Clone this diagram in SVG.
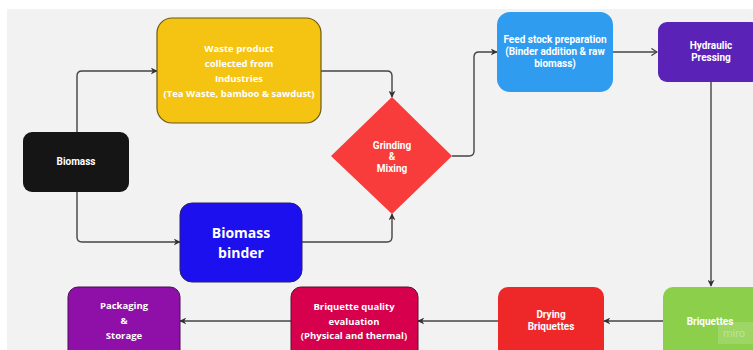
<svg xmlns="http://www.w3.org/2000/svg" width="753" height="350" viewBox="0 0 753 350">
<defs>
<marker id="ah" viewBox="0 0 10 10" refX="9" refY="5" markerWidth="7" markerHeight="7" orient="auto" markerUnits="userSpaceOnUse">
<path d="M0,0 L10,5 L0,10 L3,5 Z" fill="#333"/>
</marker>
<marker id="ahOpen" viewBox="0 0 10 10" refX="9" refY="5" markerWidth="8" markerHeight="8" orient="auto" markerUnits="userSpaceOnUse">
<path d="M2,0.5 L9,5 L2,9.5" fill="none" stroke="#444" stroke-width="1.5"/>
</marker>
</defs>
<style>
.bg{fill:#f2f2f2}
.t{font-family:"Open Sans","Liberation Sans",sans-serif;font-weight:700;fill:#fff;text-anchor:middle}
.s{font-size:9.5px}
.r{font-family:Roboto,"Liberation Sans",sans-serif;font-size:10px}
.c{fill:none;stroke:#444;stroke-width:1.4;marker-end:url(#ah)}
.co{fill:none;stroke:#444;stroke-width:1.4;marker-end:url(#ahOpen)}
</style>
<rect width="753" height="350" fill="#ffffff"/>
<rect class="bg" x="7" y="9" width="746" height="341"/>

<g id="connectors">
<path class="c" d="M77,132 V76 Q77,71 82,71 H157"/>
<path class="c" d="M321,71 H387 Q392,71 392,76 V97"/>
<path class="c" d="M77,192 V237 Q77,242 82,242 H180"/>
<path class="c" d="M302,242 H387 Q392,242 392,237 V214"/>
<path class="c" d="M452,156 H469 Q474,156 474,151 V57 Q474,52 479,52 H497"/>
<path class="co" d="M613,52 H657"/>
<path class="c" d="M711,82 V286"/>
<path class="c" d="M663,321 H604"/>
<path class="c" d="M498,321 H418"/>
<path class="c" d="M291,321 H180"/>
</g>

<g id="biomass">
<rect x="23" y="132" width="106" height="60" rx="9" fill="#151515"/>
<text class="t r" x="76" y="165">Biomass</text>
</g>

<g id="waste">
<rect x="157" y="18" width="164" height="105" rx="15" fill="#f5c412" stroke="#6b5a14" stroke-width="1.2"/>
<text class="t s" x="239" y="52">Waste product</text>
<text class="t s" x="239" y="67">collected from</text>
<text class="t s" x="239" y="82">Industries</text>
<text class="t s" x="239" y="97">(Tea Waste, bamboo &amp; sawdust)</text>
</g>

<g id="binder">
<rect x="180" y="203" width="122" height="79" rx="12" fill="#1c10ee" stroke="#2a1f6a" stroke-width="1"/>
<text class="t" x="241" y="238" font-size="14">Biomass</text>
<text class="t" x="241" y="258" font-size="14">binder</text>
</g>

<g id="grinding">
<polygon points="392,97 452,156 392,214 331,156" fill="#f83b3b"/>
<text class="t r" x="392" y="149">Grinding</text>
<text class="t r" x="392" y="160">&amp;</text>
<text class="t r" x="392" y="172">Mixing</text>
</g>

<g id="feedstock">
<rect x="497" y="12" width="116" height="80" rx="13" fill="#2f9cef"/>
<text class="t r" x="555" y="43">Feed stock preparation</text>
<text class="t r" x="555" y="55">(Binder addition &amp; raw</text>
<text class="t r" x="555" y="67">biomass)</text>
</g>

<g id="hydraulic">
<rect x="658" y="22" width="102" height="60" rx="9" fill="#5b22b8"/>
<text class="t r" x="711" y="49">Hydraulic</text>
<text class="t r" x="711" y="61">Pressing</text>
</g>

<g id="briquettes">
<rect x="663" y="287" width="100" height="75" rx="10" fill="#8ccf4b"/>
<text class="t r" x="710" y="325">Briquettes</text>
</g>

<g id="drying">
<rect x="498" y="287" width="106" height="75" rx="10" fill="#ee2828"/>
<text class="t r" x="551" y="318">Drying</text>
<text class="t r" x="551" y="330">Briquettes</text>
</g>

<g id="quality">
<rect x="291" y="287" width="127" height="75" rx="10" fill="#d6004c" stroke="#5a1030" stroke-width="1"/>
<text class="t s" x="354" y="310">Briquette quality</text>
<text class="t s" x="354" y="325">evaluation</text>
<text class="t s" x="354" y="339">(Physical and thermal)</text>
</g>

<g id="packaging">
<rect x="68" y="287" width="112" height="75" rx="10" fill="#8f10a8" stroke="#4a0a55" stroke-width="1"/>
<text class="t s" x="124" y="309">Packaging</text>
<text class="t s" x="124" y="324">&amp;</text>
<text class="t s" x="124" y="339">Storage</text>
</g>

<rect x="718" y="322" width="35" height="22" fill="#ffffff" fill-opacity="0.15"/>
<text x="734" y="337" font-family="Roboto,'Liberation Sans',sans-serif" font-size="11" fill="#ffffff" fill-opacity="0.35" text-anchor="middle">miro</text>
</svg>
